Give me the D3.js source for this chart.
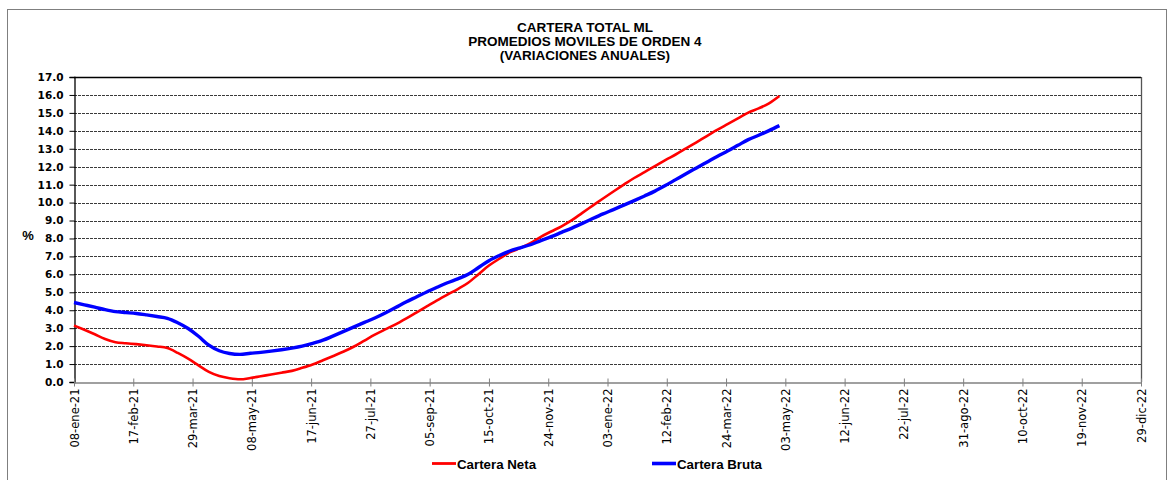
<!DOCTYPE html>
<html>
<head>
<meta charset="utf-8">
<script src="https://cdn.jsdelivr.net/npm/d3@7"></script>
<style>
  html, body { margin: 0; padding: 0; background: #fff; }
  svg { display: block; }
</style>
</head>
<body>
<svg id="chart" width="1176" height="480"></svg>
<script>
// ---------- DATA ----------
const titleLines = ["CARTERA TOTAL ML", "PROMEDIOS MOVILES DE ORDEN 4", "(VARIACIONES ANUALES)"];
const seriesNames = ["Cartera Neta", "Cartera Bruta"];
const seriesColors = ["#FF0000", "#0000FF"];
const firstDate = "2021-01-08";   // weekly observations
const carteraNeta = [
  3.15, 2.91, 2.66, 2.40, 2.22, 2.16, 2.11, 2.05, 1.98, 1.89,
  1.62, 1.30, 0.93, 0.56, 0.33, 0.21, 0.15, 0.22, 0.32, 0.42,
  0.52, 0.62, 0.79, 0.98, 1.21, 1.45, 1.70, 1.98, 2.31, 2.64,
  2.93, 3.21, 3.53, 3.87, 4.21, 4.55, 4.87, 5.18, 5.53, 6.01,
  6.49, 6.87, 7.22, 7.46, 7.74, 8.09, 8.39, 8.68, 9.02, 9.43,
  9.83, 10.23, 10.62, 11.00, 11.37, 11.70, 12.03, 12.37, 12.68, 13.02,
  13.36, 13.71, 14.05, 14.37, 14.69, 15.01, 15.25, 15.53, 15.94
];
const carteraBruta = [
  4.43, 4.30, 4.17, 4.03, 3.92, 3.87, 3.82, 3.74, 3.65, 3.55,
  3.30, 2.98, 2.55, 2.05, 1.74, 1.59, 1.54, 1.60, 1.65, 1.72,
  1.80, 1.89, 2.00, 2.15, 2.33, 2.57, 2.82, 3.07, 3.32, 3.57,
  3.85, 4.15, 4.46, 4.74, 5.02, 5.28, 5.53, 5.75, 6.00, 6.38,
  6.76, 7.05, 7.30, 7.48, 7.65, 7.88, 8.10, 8.34, 8.58, 8.84,
  9.11, 9.37, 9.61, 9.86, 10.11, 10.37, 10.64, 10.95, 11.28, 11.61,
  11.93, 12.25, 12.57, 12.87, 13.19, 13.51, 13.75, 14.01, 14.29
];
const xTickLabels = [
  "08-ene-21", "17-feb-21", "29-mar-21", "08-may-21", "17-jun-21", "27-jul-21",
  "05-sep-21", "15-oct-21", "24-nov-21", "03-ene-22", "12-feb-22", "24-mar-22",
  "03-may-22", "12-jun-22", "22-jul-22", "31-ago-22", "10-oct-22", "19-nov-22", "29-dic-22"
];
const yTicks = [0,1,2,3,4,5,6,7,8,9,10,11,12,13,14,15,16,17];
const monthsEs = ["ene","feb","mar","abr","may","jun","jul","ago","sep","oct","nov","dic"];

// ---------- HELPERS ----------
function parseEs(s) {
  const [d, m, yy] = s.split("-");
  return new Date(2000 + (+yy), monthsEs.indexOf(m), +d);
}
const startDate = d3.timeParse("%Y-%m-%d")(firstDate);
const dates = carteraNeta.map((_, i) => d3.timeDay.offset(startDate, 7 * i));
const tickDates = xTickLabels.map(parseEs);

// ---------- LAYOUT ----------
const svg = d3.select("#chart");
const plotL = 74, plotR = 1141, plotT = 77, plotB = 382;

const x = d3.scaleTime().domain([tickDates[0], tickDates[tickDates.length - 1]]).range([plotL, plotR]);
const y = d3.scaleLinear().domain([0, 17]).range([plotB, plotT]);

// outer frame
svg.append("rect").attr("x", 7.5).attr("y", 9.5).attr("width", 1159).attr("height", 480)
  .attr("fill", "none").attr("stroke", "#7f7f7f").attr("stroke-width", 1);

// title
const title = svg.append("text").attr("text-anchor", "middle")
  .attr("font-family", "Liberation Sans, Arial, sans-serif").attr("font-weight", "bold")
  .attr("font-size", 13.5).attr("fill", "#000");
titleLines.forEach((t, i) => {
  title.append("tspan").attr("x", 585).attr("y", 31.5 + i * 14.3).text(t);
});

// gridlines
svg.append("g").selectAll("line").data(yTicks.filter(v => v > 0 && v < 17)).join("line")
  .attr("x1", plotL).attr("x2", plotR)
  .attr("y1", d => Math.round(y(d)) + 0.5).attr("y2", d => Math.round(y(d)) + 0.5)
  .attr("stroke", "#3a3a3a").attr("stroke-width", 1).attr("stroke-dasharray", "3,1");

// plot top & right border
svg.append("line").attr("x1", plotL).attr("x2", plotR).attr("y1", plotT + 0.5).attr("y2", plotT + 0.5)
  .attr("stroke", "#000").attr("stroke-width", 1.3);
svg.append("line").attr("x1", plotR + 0.5).attr("x2", plotR + 0.5).attr("y1", plotT).attr("y2", plotB)
  .attr("stroke", "#555").attr("stroke-width", 1.3);

// y axis
const yAxis = d3.axisLeft(y).tickValues(yTicks).tickFormat(d3.format(".1f")).tickSize(5).tickPadding(6);
const gy = svg.append("g").attr("transform", `translate(${plotL + 0.5},0)`).call(yAxis);
gy.select(".domain").attr("stroke", "#000").attr("stroke-width", 1.3);
gy.selectAll(".tick line").attr("stroke", "#000");
gy.selectAll(".tick text").attr("font-family", "DejaVu Sans, sans-serif").attr("font-weight", "bold")
  .attr("font-size", 10.5).attr("fill", "#000");

// x axis
const xAxis = d3.axisBottom(x).tickValues(tickDates).tickFormat((d, i) => xTickLabels[i]).tickSize(0);
const gx = svg.append("g").attr("transform", `translate(0,${plotB + 0.5})`).call(xAxis);
gx.select(".domain").attr("stroke", "#808080").attr("stroke-width", 1.3);
gx.selectAll(".tick line").remove();
gx.selectAll(".tick").append("line").attr("y1", -4).attr("y2", 4).attr("stroke", "#808080").attr("stroke-width", 1);
gx.selectAll(".tick text")
  .attr("font-family", "DejaVu Sans, sans-serif").attr("font-size", 11.5).attr("fill", "#000")
  .attr("text-anchor", "end").attr("transform", "translate(0,6) rotate(-90)")
  .attr("x", 0).attr("y", 0).attr("dy", "0.35em");

// "%" label
svg.append("text").attr("x", 28).attr("y", 240).attr("text-anchor", "middle")
  .attr("font-family", "Liberation Sans, Arial, sans-serif").attr("font-weight", "bold")
  .attr("font-size", 13).text("%");

// lines
const line = d3.line().x((d, i) => x(dates[i])).y(d => y(d)).curve(d3.curveMonotoneX);
svg.append("path").datum(carteraNeta).attr("d", line).attr("fill", "none")
  .attr("stroke", seriesColors[0]).attr("stroke-width", 2.6).attr("stroke-linejoin", "round");
svg.append("path").datum(carteraBruta).attr("d", line).attr("fill", "none")
  .attr("stroke", seriesColors[1]).attr("stroke-width", 3.4).attr("stroke-linejoin", "round");

// legend
const legendPos = [{x: 432, w: 2.8}, {x: 652, w: 3.6}];
seriesNames.forEach((name, i) => {
  const g = svg.append("g");
  g.append("line").attr("x1", legendPos[i].x).attr("x2", legendPos[i].x + 24)
    .attr("y1", 463.5).attr("y2", 463.5).attr("stroke", seriesColors[i]).attr("stroke-width", legendPos[i].w);
  g.append("text").attr("x", legendPos[i].x + 25).attr("y", 468.5)
    .attr("font-family", "Liberation Sans, Arial, sans-serif").attr("font-weight", "bold")
    .attr("font-size", 13.3).attr("fill", "#000").text(name);
});
</script>
</body>
</html>
